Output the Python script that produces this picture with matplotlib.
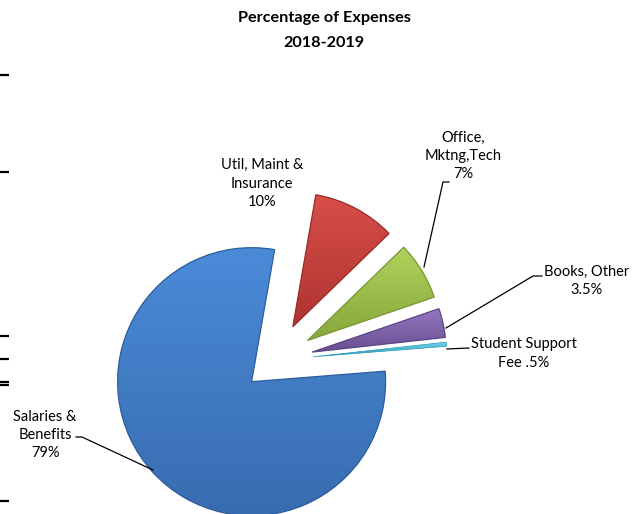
import matplotlib
matplotlib.use('Agg')
import matplotlib.pyplot as plt
import matplotlib.patches as mpatches
import numpy as np
from matplotlib.colors import to_rgb

# ---- data ----
categories = ['Salaries &\nBenefits', 'Util, Maint &\nInsurance', 'Office,\nMktng,Tech',
              'Books, Other', 'Student Support\nFee']
values = [79, 10, 7, 3.5, 0.5]
pct_labels = ['79%', '10%', '7%', '3.5%', '.5%']
pct_sep = ['\n', '\n', '\n', '\n', ' ']
title_lines = ['Percentage of Expenses', '2018-2019']

# ---- styling ----
base_colors = ['#3F7BC6', '#C6403B', '#9BBB59', '#8064A2', '#4BC0DC']
top_colors = ['#4A8BD8', '#D84E49', '#B0D25C', '#967AC1', '#6FD3EC']
bot_colors = ['#386CB0', '#AE3430', '#86A73B', '#6A4E94', '#2E98B4']
edge_colors = ['#2F5E9C', '#9A2C28', '#789835', '#5E4587', '#3AA0BC']
edge_widths = [0.9, 0.9, 0.9, 0.9, 0.5]
explode = [0.236, 0.284, 0.284, 0.284, 0.284]

W, H = 639, 514
CX, CY, R = 275, 360.4, 134  # pie centre / radius in pixels


def d(x, y):
    return ((x - CX) / R, (CY - y) / R)


FONT = 'Lato'
fig = plt.figure(figsize=(W / 100, H / 100), dpi=100)
ax = fig.add_axes([0, 0, 1, 1])

wedges, _ = ax.pie(values, explode=explode, startangle=4.5, counterclock=False,
                   colors=base_colors, radius=1, center=(0, 0),
                   wedgeprops=dict(linewidth=0))

for w, ct, cb, ec, lw in zip(wedges, top_colors, bot_colors, edge_colors, edge_widths):
    ext = w.get_path().get_extents()
    x0, y0, x1, y1 = ext.x0, ext.y0, ext.x1, ext.y1
    n = 64
    t = np.linspace(0, 1, n)[:, None]
    ct_, cb_ = np.array(to_rgb(ct)), np.array(to_rgb(cb))
    grad = cb_[None, :] * (1 - t) + ct_[None, :] * t
    img = np.repeat(grad[:, None, :], 2, axis=1)
    im = ax.imshow(img, extent=[x0, x1, y0, y1], origin='lower', aspect='auto',
                   interpolation='bilinear', zorder=w.get_zorder() + 0.1)
    im.set_clip_path(w)
    w2 = mpatches.Wedge(w.center, w.r, w.theta1, w.theta2,
                        facecolor='none', edgecolor=ec, linewidth=lw,
                        zorder=w.get_zorder() + 0.2)
    ax.add_patch(w2)

ax.set_xlim(d(0, 0)[0], d(W, 0)[0])
ax.set_ylim(d(0, H)[1], d(0, 0)[1])
ax.set_aspect('equal')
ax.axis('off')

# title
fig.text(324 / W, 1 - 18 / H, title_lines[0], ha='center', va='center',
         fontsize=11.7, fontweight='bold', family=FONT, color='black')
fig.text(324 / W, 1 - 43 / H, title_lines[1], ha='center', va='center',
         fontsize=11.7, fontweight='bold', family=FONT, color='black')

# labels (positions in pixels)
label_pos = [(45, 435), (262, 183.5), (463, 156), (587, 281), (524, 353.5)]
for cat, pct, sep, (x, y) in zip(categories, pct_labels, pct_sep, label_pos):
    fig.text(x / W, 1 - y / H, cat + sep + pct, ha='center', va='center',
             fontsize=10.5, family=FONT, linespacing=1.4, color='black')

# leader lines
leaders = [
    [(76, 437), (82, 437), (153, 470)],
    [(449, 182), (443, 182), (424, 267)],
    [(542, 276), (533, 276), (446, 328)],
    [(469, 348), (447, 349)],
]
for pts in leaders:
    xs, ys = zip(*[d(px, py) for px, py in pts])
    ax.plot(xs, ys, color='black', lw=0.9, zorder=10)

# stray tick marks at left edge
for ty in [75, 172, 336, 359, 382, 385, 501]:
    xs, ys = zip(d(0, ty), d(9, ty))
    ax.plot(xs, ys, color='black', lw=1.6, solid_capstyle='butt', zorder=10)

fig.savefig('out.png', dpi=100)
